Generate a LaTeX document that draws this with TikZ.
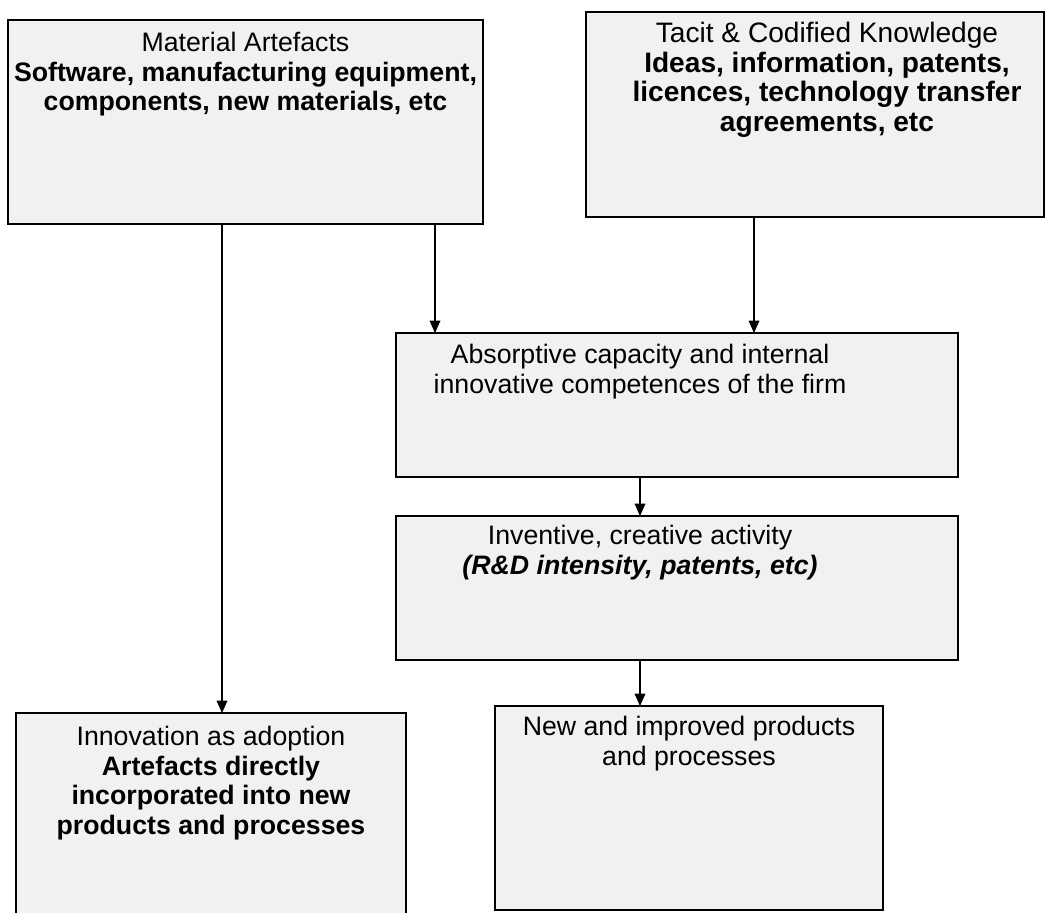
\documentclass[tikz,border=0pt]{standalone}
\usepackage{fontspec}
\setmainfont{Liberation Sans}
\usetikzlibrary{arrows.meta}
\definecolor{boxgray}{RGB}{241,241,241}

\begin{document}
\begin{tikzpicture}[x=0.02cm, y=-0.02cm,
        box/.style={draw=black, line width=1.4pt, fill=boxgray, inner sep=0pt, outer sep=0pt},
        txt/.style={anchor=north, align=center, inner sep=0pt, font=\fontsize{15.2}{16.8}\selectfont},
        arr/.style={-{Triangle[width=6pt,length=7pt]}, line width=0.9pt}]
        \useasboundingbox (0,0) rectangle (1045,913);

        % boxes
        \node[box, minimum width=9.5cm, minimum height=4.08cm] (mat) at (245.5,122) {};
        \node[box, minimum width=9.16cm, minimum height=4.1cm] (tacit) at (815,114.5) {};
        \node[box, minimum width=11.24cm, minimum height=2.88cm] (absorb) at (677,405) {};
        \node[box, minimum width=11.24cm, minimum height=2.88cm] (invent) at (677,588) {};
        \node[box, minimum width=7.76cm, minimum height=4.08cm] (newpp) at (689,808) {};
        \node[box, minimum width=7.8cm, minimum height=4.04cm] (adopt) at (211,814) {};

        % texts
        \node[txt] (matT) at ([yshift=-0.24cm]mat.north)
            {Material Artefacts\\ \textbf{Software, manufacturing equipment,}\\ \textbf{components, new materials, etc}};
        \node[txt, font=\fontsize{16}{16.8}\selectfont] (tacitT) at ([xshift=0.24cm,yshift=-0.2cm]tacit.north)
            {Tacit \& Codified Knowledge\\ \textbf{Ideas, information, patents,}\\ \textbf{licences, technology transfer}\\ \textbf{agreements, etc}};
        \node[txt] (absorbT) at ([xshift=-0.74cm,yshift=-0.22cm]absorb.north)
            {Absorptive capacity and internal\\ innovative competences of the firm};
        \node[txt] (inventT) at ([xshift=-0.74cm,yshift=-0.18cm]invent.north)
            {Inventive, creative activity\\ \textbf{\itshape (R\&D intensity, patents, etc)}};
        \node[txt] (newppT) at ([yshift=-0.2cm]newpp.north)
            {New and improved products\\ and processes};
        \node[txt] (adoptT) at ([yshift=-0.26cm]adopt.north)
            {Innovation as adoption\\ \textbf{Artefacts directly}\\ \textbf{incorporated into new}\\ \textbf{products and processes}};

        % arrows
        \coordinate (xa) at (222,0);
        \coordinate (xb) at (435,0);
        \coordinate (xc) at (754,0);
        \coordinate (xd) at (640,0);

        \draw[arr] (mat.south -| xa) -- (adopt.north -| xa);
        \draw[arr] (mat.south -| xb) -- (absorb.north -| xb);
        \draw[arr] (tacit.south -| xc) -- (absorb.north -| xc);
        \draw[arr] (absorb.south -| xd) -- (invent.north -| xd);
        \draw[arr] (invent.south -| xd) -- (newpp.north -| xd);

    \end{tikzpicture}
\end{document}
